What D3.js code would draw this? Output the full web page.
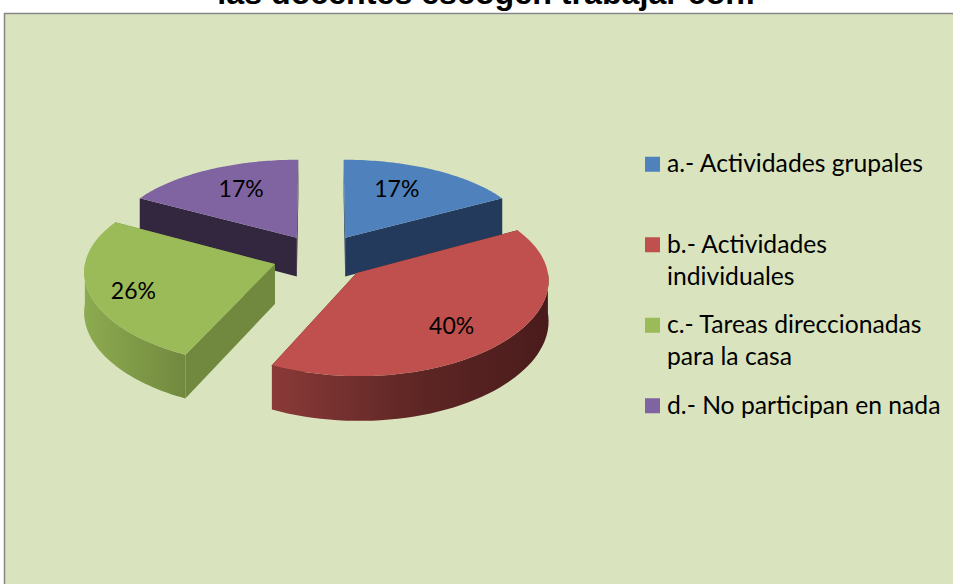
<!DOCTYPE html>
<html>
<head>
<meta charset="utf-8">
<script src="https://cdnjs.cloudflare.com/ajax/libs/d3/7.8.5/d3.min.js"></script>
<style>
html, body { margin: 0; padding: 0; background: #fff; overflow: hidden; }
svg { display: block; }
</style>
</head>
<body>
<svg id="chart" width="953" height="584"></svg>
<script>
/// data ///
var categories = ["a.- Actividades grupales", "b.- Actividades individuales", "c.- Tareas direccionadas para la casa", "d.- No participan en nada"];
var values = [17, 40, 26, 17];
var colors = ["#4f81bd", "#c0504d", "#9bbb59", "#8064a2"];
var cutColors = ["#243a5c", "#4b1c1c", "#71893f", "#33263f"];
var wallStops = [
  ["#2c4770", "#243a5c"],
  ["#8a3a38", "#5f2725", "#4a1b1b"],
  ["#8dab50", "#71893f"],
  ["#3e2f4e", "#33263f"]
];
var legendLines = [["a.- Actividades grupales"], ["b.- Actividades", "individuales"], ["c.- Tareas direccionadas", "para la casa"], ["d.- No participan en nada"]];
var titleText = "las docentes escogen trabajar con:";

/// settings ///
var width = 953, height = 584;
var svg = d3.select("#chart");
var cx = 321, cy = 257,     // pie centre on screen
    rx = 189, ry = 89.5,    // radius across / into the screen
    depthX = 0.07,          // perspective strength, x and y fitted apart
    depthY = 0.1,
    thick = 39.5,
    explode = 0.255,
    steps = 60;

// where each value label sits inside its slice
var labelRadius = [0.666, 0.72, 0.779, 0.677];
var labelTurn = [-4.4, 6, -3.5, 2.7];

// plane coords (u right, v back) to the screen
function project(u, v, z) {
  var sx = 1 / (1 + depthX * v), sy = 1 / (1 + depthY * v);
  return [cx + rx * u * sx, cy - ry * v * sy + thick * (z || 0) * sy];
}

var pie = d3.pie().sort(null).value(function(d) { return d; });
var arcs = pie(values);
var line = d3.line();

svg.append("rect")
    .attr("x", 4.5).attr("y", 13.5)
    .attr("width", width + 20).attr("height", height + 20)
    .attr("fill", "#d9e4bf")
    .attr("stroke", "#868686")
    .attr("stroke-width", 1.5);

svg.append("text")
    .attr("x", 486.5).attr("y", 4)
    .attr("text-anchor", "middle")
    .attr("font-family", "Liberation Sans")
    .attr("font-weight", "bold")
    .attr("font-size", 32.2)
    .text(titleText);

var defs = svg.append("defs");
var g = svg.append("g");

// back slices first, then the front ones
[3, 0, 2, 1].forEach(function(i) {
  var a = arcs[i];
  var mid = (a.startAngle + a.endAngle) / 2;
  var ox = explode * Math.sin(mid), oy = explode * Math.cos(mid);
  var angles = d3.range(steps + 1).map(function(k) {
    return a.startAngle + (a.endAngle - a.startAngle) * k / steps;
  });
  var rim = function(list, z) {
    return list.map(function(t) { return project(ox + Math.sin(t), oy + Math.cos(t), z); });
  };
  var top = rim(angles, 0);
  var apex = project(ox, oy, 0), apexLow = project(ox, oy, 1);

  // cut faces
  [0, steps].forEach(function(k) {
    var t = angles[k];
    var low = project(ox + Math.sin(t), oy + Math.cos(t), 1);
    g.append("path")
        .attr("d", line([apex, top[k], low, apexLow]) + "Z")
        .attr("fill", cutColors[i]);
  });

  // outer wall, only the part that faces the viewer, shaded from left to right
  var front = angles.map(function(t) {
    return Math.max(Math.PI / 2, Math.min(Math.PI * 1.5, t));
  });
  var wallTop = rim(front, 0), wallLow = rim(front, 1);
  var xs = d3.extent(top, function(d) { return d[0]; });
  var grad = defs.append("linearGradient")
      .attr("id", "wall" + i)
      .attr("gradientUnits", "userSpaceOnUse")
      .attr("x1", xs[0]).attr("x2", xs[1])
      .attr("y1", 0).attr("y2", 0);
  wallStops[i].forEach(function(c, k) {
    grad.append("stop")
        .attr("offset", k / (wallStops[i].length - 1))
        .attr("stop-color", c);
  });
  g.append("path")
      .attr("d", line(wallTop.concat(wallLow.slice().reverse())) + "Z")
      .attr("fill", "url(#wall" + i + ")");

  // top face
  g.append("path")
      .attr("d", line([apex].concat(top)) + "Z")
      .attr("fill", colors[i]);
});

// value labels
arcs.forEach(function(a, i) {
  var mid = (a.startAngle + a.endAngle) / 2;
  var turn = mid + labelTurn[i] * Math.PI / 180;
  var p = project(explode * Math.sin(mid) + labelRadius[i] * Math.sin(turn),
                  explode * Math.cos(mid) + labelRadius[i] * Math.cos(turn), 0);
  svg.append("text")
      .attr("x", p[0]).attr("y", p[1] + 8)
      .attr("text-anchor", "middle")
      .attr("font-family", "Lato")
      .attr("font-size", 23)
      .attr("fill", "#000")
      .text(a.value + "%");
});

// legend
var legendY = d3.scaleBand().domain(categories).range([124, 446]);
categories.forEach(function(c, i) {
  var y = legendY(c) + legendY.bandwidth() / 2;
  var row = svg.append("g");
  row.append("rect")
      .attr("x", 645).attr("y", y - 7.5)
      .attr("width", 15).attr("height", 15)
      .attr("fill", colors[i]);
  legendLines[i].forEach(function(t, k) {
    row.append("text")
        .attr("x", 667).attr("y", y + 8 + k * 32)
        .attr("font-family", "Lato")
        .attr("font-size", 24.7)
        .attr("fill", "#000")
        .text(t);
  });
});
</script>
</body>
</html>
